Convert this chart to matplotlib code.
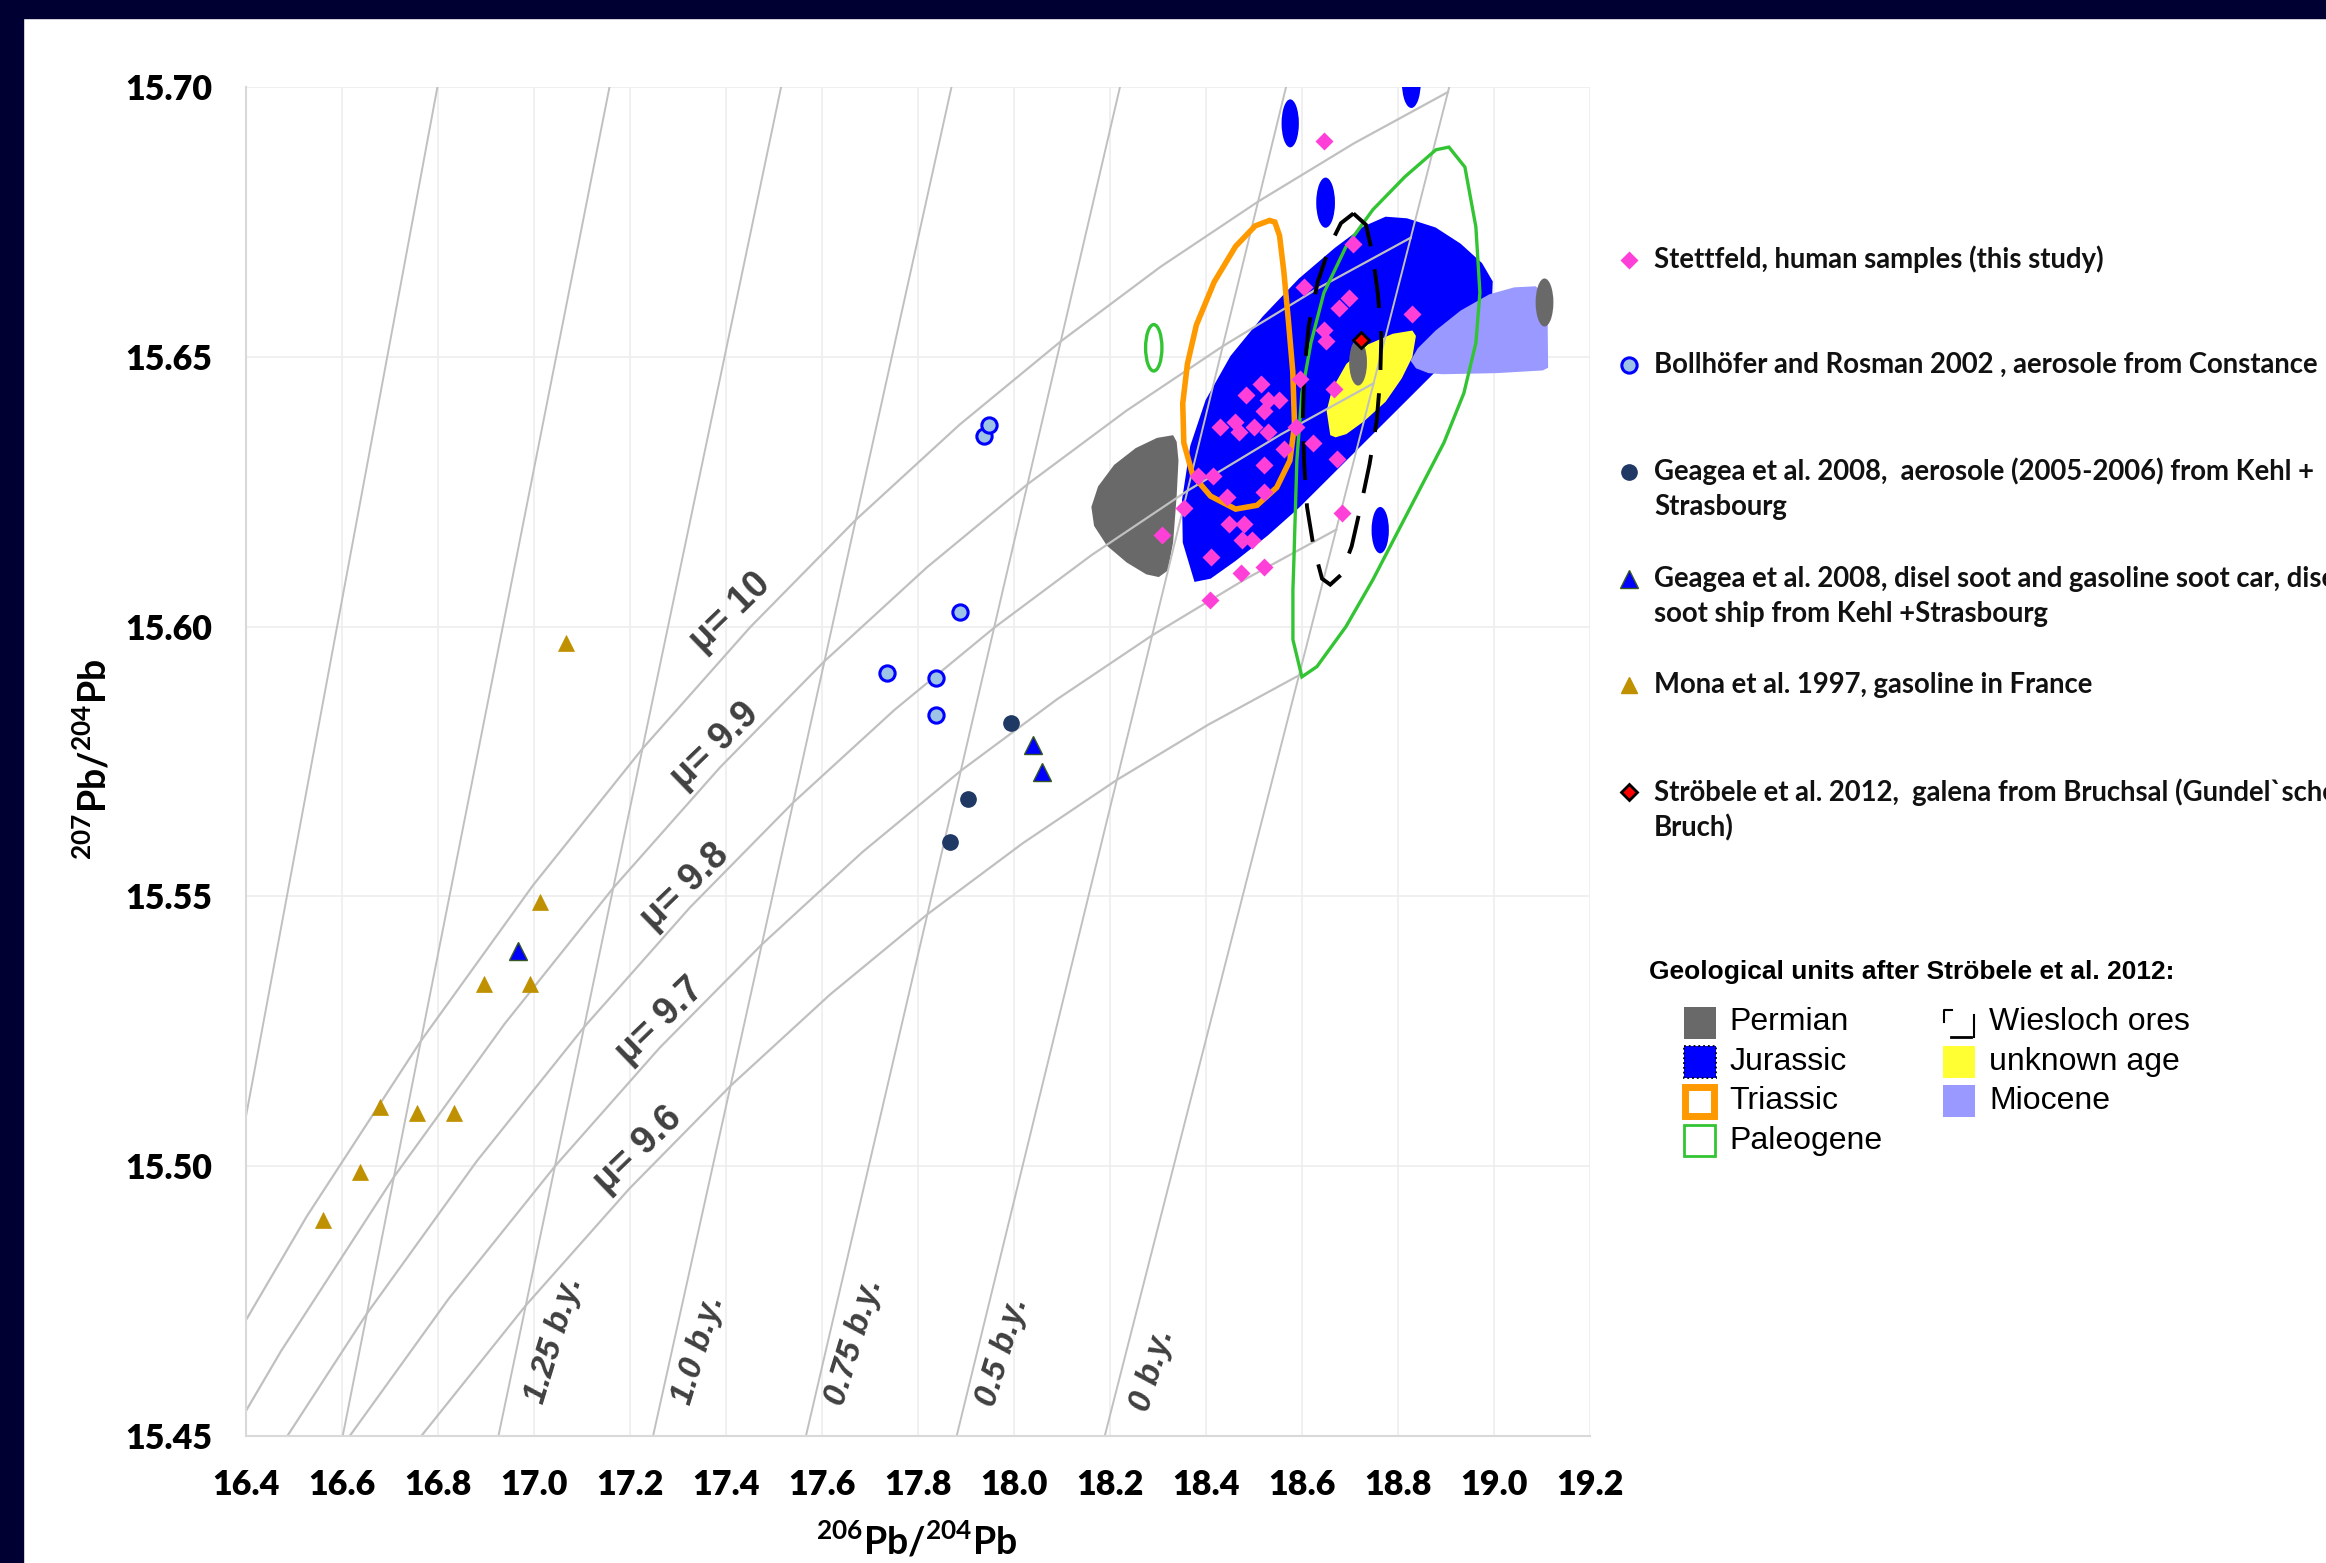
import matplotlib
matplotlib.use('Agg')
import matplotlib.pyplot as plt
from matplotlib.patches import Polygon, Ellipse, Rectangle

plt.rcParams['mathtext.fontset'] = 'custom'
plt.rcParams['mathtext.rm'] = 'Lato:bold'
plt.rcParams['mathtext.bf'] = 'Lato:bold'

# ---------------- data ----------------
stettfeld_x = [18.646, 18.708, 18.605, 18.698, 18.677, 18.829, 18.646, 18.651, 18.596, 18.668,
               18.515, 18.485, 18.531, 18.552, 18.522, 18.429, 18.461, 18.469, 18.500, 18.530,
               18.589, 18.563, 18.624, 18.521, 18.673, 18.384, 18.416, 18.445, 18.522, 18.355,
               18.684, 18.309, 18.448, 18.480, 18.475, 18.496, 18.412, 18.474, 18.522, 18.410]
stettfeld_y = [15.690, 15.671, 15.663, 15.661, 15.659, 15.658, 15.655, 15.653, 15.646, 15.644,
               15.645, 15.643, 15.642, 15.642, 15.640, 15.637, 15.638, 15.636, 15.637, 15.636,
               15.637, 15.633, 15.634, 15.630, 15.631, 15.628, 15.628, 15.624, 15.625, 15.622,
               15.621, 15.617, 15.619, 15.619, 15.616, 15.616, 15.613, 15.610, 15.611, 15.605]

bollhofer_x = [17.736, 17.838, 17.838, 17.889, 17.938, 17.949]
bollhofer_y = [15.5915, 15.5905, 15.5837, 15.6028, 15.6354, 15.6374]

geagea_aer_x = [17.994, 17.905, 17.868]
geagea_aer_y = [15.5821, 15.5680, 15.5600]

geagea_soot_x = [16.967, 18.040, 18.059]
geagea_soot_y = [15.5398, 15.5781, 15.5731]

mona_x = [17.067, 17.014, 16.896, 16.993, 16.679, 16.758, 16.835, 16.639, 16.562]
mona_y = [15.5969, 15.5489, 15.5338, 15.5338, 15.5110, 15.5099, 15.5099, 15.4990, 15.4900]

strobele_x = [18.724]
strobele_y = [15.6532]

# growth curves (mu = 10 ... 9.6)
mu_values = ['μ= 10', 'μ= 9.9', 'μ= 9.8', 'μ= 9.7', 'μ= 9.6']
growth_x = [
    [18.9049, 18.7091, 18.5094, 18.3059, 18.0984, 17.8868, 17.6711, 17.4511, 17.2268, 16.9982, 16.7650, 16.5274, 16.2850],
    [18.8273, 18.6335, 18.4359, 18.2344, 18.0289, 17.8194, 17.6059, 17.3881, 17.1661, 16.9397, 16.7089, 16.4736, 16.2337],
    [18.7498, 18.5579, 18.3623, 18.1628, 17.9594, 17.7521, 17.5407, 17.3251, 17.1053, 16.8813, 16.6528, 16.4198, 16.1823],
    [18.6723, 18.4824, 18.2887, 18.0913, 17.8900, 17.6847, 17.4755, 17.2621, 17.0446, 16.8228, 16.5967, 16.3661],
    [18.5948, 18.4068, 18.2151, 18.0197, 17.8205, 17.6174, 17.4103, 17.1991, 16.9838, 16.7643, 16.5405],
]
growth_y = [
    [15.6991, 15.6896, 15.6788, 15.6667, 15.6529, 15.6374, 15.6198, 15.5999, 15.5774, 15.5520, 15.5232, 15.4907, 15.4539],
    [15.6721, 15.6627, 15.6520, 15.6400, 15.6264, 15.6110, 15.5936, 15.5739, 15.5516, 15.5264, 15.4980, 15.4657, 15.4293],
    [15.6451, 15.6357, 15.6252, 15.6133, 15.5998, 15.5846, 15.5674, 15.5479, 15.5258, 15.5009, 15.4727, 15.4408, 15.4047],
    [15.6180, 15.6088, 15.5984, 15.5866, 15.5733, 15.5582, 15.5411, 15.5219, 15.5000, 15.4754, 15.4475, 15.4159],
    [15.5910, 15.5819, 15.5716, 15.5599, 15.5467, 15.5318, 15.5149, 15.4958, 15.4742, 15.4498, 15.4222],
]
mu_label_x = [17.409, 17.378, 17.316, 17.263, 17.218]
mu_label_y = [15.6026, 15.5779, 15.5517, 15.5270, 15.5031]

# isochrons: x where each line meets y = 15.45 and y = 15.70
iso_y = [15.45, 15.70]
iso_bottom_x = [18.1899, 17.8814, 17.5674, 17.2489, 16.9267, 16.6023, 16.2769]
iso_top_x = [18.9075, 18.5675, 18.2215, 17.8705, 17.5155, 17.1580, 16.7995]
age_labels = ['0 b.y.', '0.5 b.y.', '0.75 b.y.', '1.0 b.y.', '1.25 b.y.']
age_label_x = [18.289, 17.978, 17.669, 17.344, 17.042]
age_label_y = [15.4622, 15.4656, 15.4675, 15.4660, 15.4678]

# geological fields (outlines)
jurassic = [(18.3769, 15.6083), (18.3524, 15.6156), (18.3509, 15.6235), (18.3680, 15.6335),
            (18.4000, 15.6420), (18.4520, 15.6502), (18.5190, 15.6575), (18.5940, 15.6645),
            (18.6690, 15.6702), (18.7290, 15.6742), (18.7750, 15.6760), (18.8196, 15.6757),
            (18.8792, 15.6740), (18.9313, 15.6710), (18.9759, 15.6674), (18.9982, 15.6640),
            (18.9967, 15.6606), (18.9685, 15.6566), (18.9238, 15.6520), (18.8792, 15.6473),
            (18.8196, 15.6420), (18.7452, 15.6354), (18.6708, 15.6288), (18.5964, 15.6222),
            (18.5295, 15.6169), (18.4625, 15.6122), (18.4104, 15.6089)]
jurassic_small = [(18.5763, 15.6933, 0.036, 0.0089), (18.6500, 15.6786, 0.039, 0.0093),
                  (18.8286, 15.7008, 0.039, 0.0093), (18.7638, 15.6179, 0.036, 0.0086)]
miocene = [(18.8271, 15.6493), (18.8420, 15.6516), (18.8792, 15.6549), (18.9313, 15.6586),
           (18.9908, 15.6616), (19.0429, 15.6629), (19.0875, 15.6631), (19.1121, 15.6612),
           (19.1136, 15.6480), (19.1024, 15.6475), (19.0057, 15.6470), (18.8940, 15.6468),
           (18.8643, 15.6470), (18.8383, 15.6479)]
unknown_age = [(18.6597, 15.6355), (18.6522, 15.6400), (18.6634, 15.6440), (18.6932, 15.6487),
               (18.7378, 15.6523), (18.7899, 15.6543), (18.8308, 15.6549), (18.8382, 15.6539),
               (18.8308, 15.6500), (18.8085, 15.6460), (18.7750, 15.6417), (18.7304, 15.6381),
               (18.6932, 15.6357), (18.6708, 15.6351)]
permian = [(18.3323, 15.6355), (18.2988, 15.6350), (18.2542, 15.6331), (18.2095, 15.6300),
           (18.1760, 15.6260), (18.1620, 15.6222), (18.1676, 15.6187), (18.1946, 15.6150),
           (18.2356, 15.6119), (18.2765, 15.6097), (18.3025, 15.6092), (18.3211, 15.6104),
           (18.3323, 15.6156), (18.3397, 15.6242), (18.3435, 15.6308), (18.3397, 15.6343)]
permian_small = [(18.7177, 15.6490, 0.037, 0.0086), (19.1061, 15.6601, 0.037, 0.0089)]
triassic = [(18.5332, 15.6753), (18.5034, 15.6743), (18.4625, 15.6705), (18.4179, 15.6639),
            (18.3807, 15.6559), (18.3621, 15.6487), (18.3524, 15.6414), (18.3546, 15.6341),
            (18.3732, 15.6281), (18.4104, 15.6242), (18.4625, 15.6218), (18.5071, 15.6225),
            (18.5481, 15.6258), (18.5756, 15.6308), (18.5853, 15.6374), (18.5816, 15.6473),
            (18.5726, 15.6566), (18.5629, 15.6659), (18.5540, 15.6725), (18.5443, 15.6750)]
paleogene = [(18.9069, 15.6889), (18.9402, 15.6852), (18.9631, 15.6741), (18.9715, 15.6619),
             (18.9631, 15.6526), (18.9381, 15.6433), (18.8965, 15.6341), (18.8423, 15.6248),
             (18.7881, 15.6155), (18.7485, 15.6087), (18.6923, 15.6000), (18.6319, 15.5926),
             (18.6006, 15.5907), (18.5819, 15.5976), (18.5819, 15.6068), (18.5840, 15.6124),
             (18.5860, 15.6185), (18.5902, 15.6309), (18.6006, 15.6433), (18.6194, 15.6526),
             (18.6465, 15.6619), (18.6923, 15.6704), (18.7485, 15.6773), (18.8152, 15.6834),
             (18.8798, 15.6884)]
paleogene_small = (18.292, 15.6517, 0.034, 0.0086)
wiesloch = [(18.7080, 15.6766), (18.7341, 15.6745), (18.7475, 15.6692), (18.7587, 15.6619),
            (18.7661, 15.6540), (18.7638, 15.6460), (18.7564, 15.6381), (18.7415, 15.6301),
            (18.7229, 15.6222), (18.7043, 15.6149), (18.6820, 15.6096), (18.6597, 15.6078),
            (18.6426, 15.6089), (18.6247, 15.6149), (18.6113, 15.6222), (18.6054, 15.6301),
            (18.6024, 15.6381), (18.6054, 15.6473), (18.6151, 15.6559), (18.6336, 15.6639),
            (18.6597, 15.6708), (18.6820, 15.6748)]

x_ticks = [16.4, 16.6, 16.8, 17.0, 17.2, 17.4, 17.6, 17.8, 18.0, 18.2, 18.4, 18.6, 18.8, 19.0, 19.2]
y_ticks = [15.45, 15.50, 15.55, 15.60, 15.65, 15.70]

legend_texts = [
    ['Stettfeld, human samples (this study)'],
    ['Bollhöfer and Rosman 2002 , aerosole from Constance'],
    ['Geagea et al. 2008,  aerosole (2005-2006) from Kehl +', 'Strasbourg'],
    ['Geagea et al. 2008, disel soot and gasoline soot car, disel', 'soot ship from Kehl +Strasbourg'],
    ['Mona et al. 1997, gasoline in France'],
    ['Ströbele et al. 2012,  galena from Bruchsal (Gundel`scher', 'Bruch)'],
]

# ---------------- styles ----------------
GRID_LINE = '#c0c0c0'
LABEL_GREY = '#404040'
PINK = '#ff40d8'
BLUE = '#0000ff'
GREY = '#696969'
YELLOW = '#ffff33'
MIOCENE = '#9999ff'
ORANGE = '#ff9900'
GREEN = '#33c433'
NAVY = '#1f3864'
GOLD = '#bf9000'
LIGHTBLUE = '#9dc3e6'

fig = plt.figure(figsize=(23.26, 15.63), dpi=100)
fig.patch.set_facecolor('white')

ax = fig.add_axes([0.1056, 0.0813, 0.5778, 0.8629])
ax.set_xlim(16.4, 19.2)
ax.set_ylim(15.45, 15.70)
ax.set_xticks(x_ticks)
ax.set_xticklabels([f'{v:.1f}' for v in x_ticks])
ax.set_yticks(y_ticks)
ax.set_yticklabels([f'{v:.2f}' for v in y_ticks])
ax.tick_params(length=0, labelsize=24.5, pad=24)
for lab in ax.get_xticklabels() + ax.get_yticklabels():
    lab.set_fontfamily('Lato')
    lab.set_fontweight('heavy')
ax.grid(True, color='#eeeeee', lw=1.2)
ax.set_axisbelow(True)
for s in ['top', 'right']:
    ax.spines[s].set_visible(False)
for s in ['left', 'bottom']:
    ax.spines[s].set_color('#d9d9d9')
    ax.spines[s].set_linewidth(1.5)

# fields
ax.add_patch(Polygon(jurassic, closed=True, fc=BLUE, ec='none', zorder=2))
ax.add_patch(Polygon(miocene, closed=True, fc=MIOCENE, ec='none', zorder=2.1))
ax.add_patch(Polygon(unknown_age, closed=True, fc=YELLOW, ec='none', zorder=2.1))
ax.add_patch(Polygon(permian, closed=True, fc=GREY, ec='none', zorder=2.1))
for cx, cy, w, h in permian_small:
    ax.add_patch(Ellipse((cx, cy), w, h, fc=GREY, ec='none', zorder=2.2))
for cx, cy, w, h in jurassic_small:
    ax.add_patch(Ellipse((cx, cy), w, h, fc=BLUE, ec='none', zorder=2.2))

# model grid: growth curves and isochrons
for gx, gy in zip(growth_x, growth_y):
    ax.plot(gx, gy, color=GRID_LINE, lw=1.6, zorder=2.5)
for xb, xt in zip(iso_bottom_x, iso_top_x):
    ax.plot([xb, xt], iso_y, color=GRID_LINE, lw=1.4, zorder=2.5)

ax.add_patch(Polygon(triassic, closed=True, fill=False, ec=ORANGE, lw=4.0, zorder=3))
ax.add_patch(Polygon(paleogene, closed=True, fill=False, ec=GREEN, lw=2.4, zorder=3))
cx, cy, w, h = paleogene_small
ax.add_patch(Ellipse((cx, cy), w, h, fill=False, ec=GREEN, lw=2.4, zorder=3))
ax.add_patch(Polygon(wiesloch, closed=True, fill=False, ec='black', lw=2.8,
                     ls=(0, (10, 6)), zorder=3))

for txt, lx, ly in zip(mu_values, mu_label_x, mu_label_y):
    ax.text(lx, ly, txt, rotation=44, ha='center', va='center', rotation_mode='anchor',
            fontsize=27, fontweight='bold', family='Liberation Sans', color=LABEL_GREY, zorder=4)
for txt, lx, ly in zip(age_labels, age_label_x, age_label_y):
    ax.text(lx, ly, txt, rotation=73, ha='center', va='center', rotation_mode='anchor',
            fontsize=24, fontweight='bold', fontstyle='italic', family='Liberation Sans',
            color=LABEL_GREY, zorder=4)

# samples
ax.plot(mona_x, mona_y, '^', ms=12, mfc=GOLD, mec=GOLD, mew=0.5, ls='none', zorder=5)
ax.plot(geagea_soot_x, geagea_soot_y, '^', ms=13.5, mfc=BLUE, mec='#385723', mew=1, ls='none', zorder=5)
ax.plot(geagea_aer_x, geagea_aer_y, 'o', ms=11, mfc=NAVY, mec=NAVY, ls='none', zorder=5)
ax.plot(bollhofer_x, bollhofer_y, 'o', ms=11, mfc=LIGHTBLUE, mec=BLUE, mew=2.2, ls='none', zorder=5)
ax.plot(stettfeld_x, stettfeld_y, 'D', ms=9, mfc=PINK, mec='none', ls='none', zorder=6)
ax.plot(strobele_x, strobele_y, 'D', ms=8.5, mfc='#ff0000', mec='black', mew=2, ls='none', zorder=7)

# axis titles
fig.text(92 / 2326, 1 - 759.5 / 1563, r'$^{207}$Pb/$^{204}$Pb', rotation=90, ha='center', va='center',
         fontsize=27, family='Lato', fontweight='bold')
fig.text(916.7 / 2326, 1 - 1540 / 1563, r'$^{206}$Pb/$^{204}$Pb', ha='center', va='center',
         fontsize=27, family='Lato', fontweight='bold')

# overlay in pixel units for frame and legends
ov = fig.add_axes([0, 0, 1, 1])
ov.set_xlim(0, 2326)
ov.set_ylim(1563, 0)
ov.axis('off')
ov.add_patch(Rectangle((0, 0), 2326, 18, color='#000033'))
ov.add_patch(Rectangle((0, 0), 23, 1563, color='#000033'))

row_y = [259.6, 364.9, 471.7, 578.5, 685.3, 792.1]
mk_x, tx_x = 1628.8, 1654
ov.plot(mk_x, row_y[0], 'D', ms=9.5, mfc=PINK, mec='none')
ov.plot(mk_x, row_y[1], 'o', ms=11, mfc=LIGHTBLUE, mec=BLUE, mew=2.2)
ov.plot(mk_x, row_y[2], 'o', ms=11, mfc=NAVY, mec=NAVY)
ov.plot(mk_x, row_y[3], '^', ms=12.5, mfc=BLUE, mec='#385723', mew=1)
ov.plot(mk_x, row_y[4], '^', ms=12, mfc=GOLD, mec=GOLD)
ov.plot(mk_x, row_y[5], 'D', ms=8.5, mfc='#ff0000', mec='black', mew=2)
for lines, ry in zip(legend_texts, row_y):
    for k, line in enumerate(lines):
        ov.text(tx_x, ry + k * 35.6, line, ha='left', va='center', fontsize=19.8,
                family='Lato', fontweight='bold', color='#111111')

# geological legend
ov.text(1648.6, 971.7, 'Geological units after Ströbele et al. 2012:', ha='left', va='center',
        fontsize=19, fontweight='bold', family='Liberation Sans')
geo_col1 = ['Permian', 'Jurassic', 'Triassic', 'Paleogene']
geo_col2 = ['Wiesloch ores', 'unknown age', 'Miocene']
geo_rows = [1022.5, 1062.0, 1101.0, 1140.5]
ov.add_patch(Rectangle((1683.5, geo_rows[0] - 16), 32, 32, fc=GREY, ec='none'))
ov.add_patch(Rectangle((1683.5, geo_rows[1] - 16), 32, 32, fc=BLUE, ec='black', ls=':', lw=1.3))
ov.add_patch(Rectangle((1685, geo_rows[2] - 14.5), 29, 29, fc='white', ec=ORANGE, lw=5))
ov.add_patch(Rectangle((1684, geo_rows[3] - 15.5), 31, 31, fc='white', ec=GREEN, lw=2))
ov.add_patch(Rectangle((1942.5, geo_rows[1] - 16), 32, 32, fc=YELLOW, ec='none'))
ov.add_patch(Rectangle((1942.5, geo_rows[2] - 16), 32, 32, fc=MIOCENE, ec='none'))
ov.plot([1944, 1944, 1952], [1022, 1010, 1010], color='black', lw=1.5)
ov.plot([1951, 1971], [1037, 1037], color='black', lw=2)
ov.plot([1974, 1974], [1015, 1037], color='black', lw=1.5)
for name, ry in zip(geo_col1, geo_rows):
    ov.text(1729.6, ry, name, ha='left', va='center', fontsize=23, family='Liberation Sans')
for name, ry in zip(geo_col2, geo_rows):
    ov.text(1988.9, ry, name, ha='left', va='center', fontsize=23, family='Liberation Sans')

fig.savefig('out.png', dpi=100, facecolor='white')
